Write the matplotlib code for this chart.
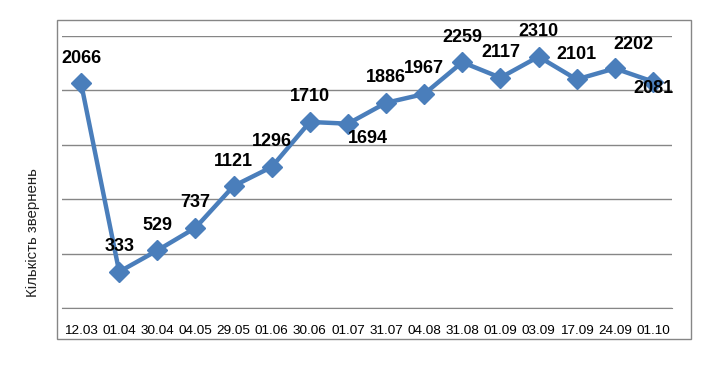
import matplotlib
matplotlib.use("Agg")
import matplotlib.pyplot as plt
from matplotlib.patches import Rectangle

plt.rcParams['font.family'] = ['Liberation Sans', 'DejaVu Sans']

dates = ['12.03', '01.04', '30.04', '04.05', '29.05', '01.06', '30.06', '01.07',
         '31.07', '04.08', '31.08', '01.09', '03.09', '17.09', '24.09', '01.10']
values = [2066, 333, 529, 737, 1121, 1296, 1710, 1694,
          1886, 1967, 2259, 2117, 2310, 2101, 2202, 2081]

fig = plt.figure(figsize=(7.24, 3.86), dpi=100)
ax = fig.add_axes([62 / 724, 1 - 308 / 386, 610 / 724, 272 / 386])

x = range(len(values))
ax.plot(x, values, color='#4A7EBB', linewidth=3.2, marker='D', markersize=10,
        zorder=3)

# label offsets in pixels (dx, dy), most sit straight above the point
offsets = {7: (20, -15), 14: (19, 24), 15: (0, -7)}
for i, v in enumerate(values):
    dx, dy = offsets.get(i, (0, 25))
    ax.annotate(str(v), (i, v), xytext=(dx, dy), textcoords='offset pixels',
                ha='center', va='center', fontsize=13, fontweight='bold',
                color='black', zorder=4)

ax.set_xlim(-0.5, len(values) - 0.5)
ax.set_ylim(0, 2500)
ax.set_yticks(range(0, 2501, 500))
ax.set_yticklabels([])
ax.set_xticks(list(x))
ax.set_xticklabels(dates, fontsize=9.7)
ax.tick_params(axis='both', length=0)
ax.tick_params(axis='x', pad=12)
ax.grid(axis='y', color='#868686', linewidth=1)
ax.set_axisbelow(True)
for s in ['top', 'right', 'left']:
    ax.spines[s].set_visible(False)
ax.spines['bottom'].set_color('#868686')

fig.text(33 / 724, 1 - 233 / 386, 'Кількість звернень', rotation=90,
         ha='center', va='center', fontsize=10.8, color='#222222')

# outer chart border
fig.patches.append(Rectangle((57 / 724, 1 - 339 / 386), 634 / 724, 319 / 386,
                             transform=fig.transFigure, fill=False,
                             edgecolor='#868686', linewidth=1))

fig.savefig('out.png', dpi=100)
